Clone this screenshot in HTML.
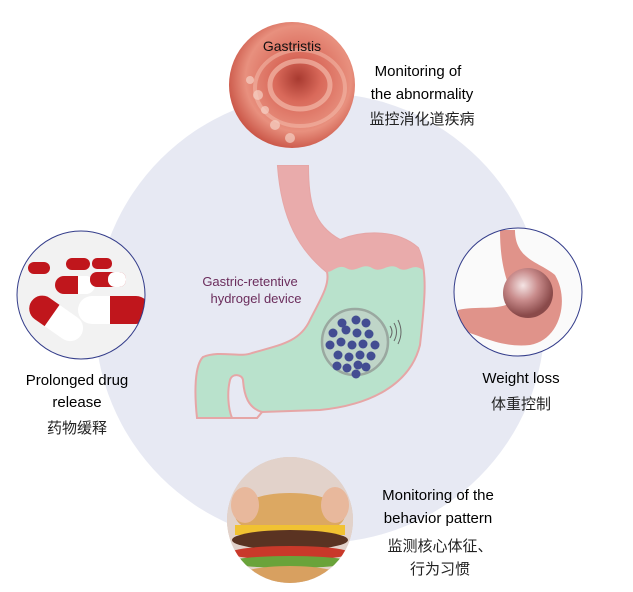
<!DOCTYPE html>
<html><head><meta charset="utf-8"><style>
body{margin:0;background:#fff;}
svg{display:block;}
text{font-family:"Liberation Sans","Noto Sans CJK SC",sans-serif;}
</style></head><body>
<svg width="633" height="592" viewBox="0 0 633 592" xmlns="http://www.w3.org/2000/svg">
<defs>
<radialGradient id="gas" cx="0.55" cy="0.45" r="0.6">
<stop offset="0" stop-color="#a83a30"/><stop offset="0.3" stop-color="#d9695a"/><stop offset="0.7" stop-color="#e8907e"/><stop offset="1" stop-color="#c44a3c"/></radialGradient>
<radialGradient id="bal" cx="0.4" cy="0.35" r="0.6">
<stop offset="0" stop-color="#f4e4e4"/><stop offset="0.5" stop-color="#c98c8c"/><stop offset="1" stop-color="#8a4a4a"/></radialGradient>
<clipPath id="cb"><circle cx="290" cy="520" r="63"/></clipPath>
<clipPath id="cl"><circle cx="81" cy="295" r="64"/></clipPath>
<clipPath id="cr"><circle cx="518" cy="292" r="64"/></clipPath>
</defs>
<circle cx="320" cy="318" r="225" fill="#e7e9f3"/>
<!-- stomach -->
<path d="M278,166 L308,166 C308,200 312,225 340,240 C360,232 395,228 418,248 C428,270 425,300 420,345 C410,385 370,405 320,410 L262,412 L257,418 L197,418 C194,390 195,365 203,357 C220,350 240,358 252,353 C280,345 300,342 310,320 C320,300 330,285 327,272 C300,250 282,220 278,166 Z" fill="#b9e2cc" stroke="#e6a6a6" stroke-width="2"/>
<path d="M262,412 C248,408 244,395 243,380 C242,374 232,373 230,380 C227,392 228,408 232,418 L257,418 Z" fill="#e7e9f3" stroke="#e6a6a6" stroke-width="2"/>
<path d="M278,166 L308,166 C308,200 312,225 340,240 C360,232 395,228 418,248 C422,255 423,262 423,270 C412,262 408,274 398,268 C388,262 382,274 372,268 C362,262 356,274 346,268 C338,264 333,272 327,272 C300,250 282,220 278,166 Z" fill="#e9abab"/>
<circle cx="355" cy="342" r="33" fill="#bfd5c8" stroke="#9aa8a0" stroke-width="2.5"/>
<g fill="#434d92">
<circle cx="342" cy="323" r="4.5"/><circle cx="356" cy="320" r="4.5"/><circle cx="366" cy="323" r="4.5"/><circle cx="333" cy="333" r="4.5"/><circle cx="346" cy="330" r="4.5"/><circle cx="357" cy="333" r="4.5"/><circle cx="369" cy="334" r="4.5"/><circle cx="330" cy="345" r="4.5"/><circle cx="341" cy="342" r="4.5"/><circle cx="352" cy="345" r="4.5"/><circle cx="363" cy="344" r="4.5"/><circle cx="375" cy="345" r="4.5"/><circle cx="338" cy="355" r="4.5"/><circle cx="349" cy="357" r="4.5"/><circle cx="360" cy="355" r="4.5"/><circle cx="371" cy="356" r="4.5"/><circle cx="337" cy="366" r="4.5"/><circle cx="347" cy="368" r="4.5"/><circle cx="358" cy="365" r="4.5"/><circle cx="366" cy="367" r="4.5"/><circle cx="356" cy="374" r="4.5"/>
</g>
<path d="M390,326 q4,6 0,12 M394,323 q5,9 0,18 M398,320 q6,12 0,24" stroke="#666" fill="none" stroke-width="1"/>
<text x="250" y="286" font-size="13" fill="#6b2d5c" text-anchor="middle">Gastric-retentive</text>
<text x="256" y="303" font-size="13" fill="#6b2d5c" text-anchor="middle">hydrogel device</text>
<!-- top photo -->
<circle cx="292" cy="85" r="63" fill="url(#gas)"/>
<ellipse cx="300" cy="85" rx="30" ry="24" fill="none" stroke="#f2b8a8" stroke-width="5" opacity="0.7"/>
<ellipse cx="300" cy="88" rx="45" ry="38" fill="none" stroke="#f5c0b0" stroke-width="4" opacity="0.5"/>
<g fill="#f6d0c4" opacity="0.7"><circle cx="250" cy="80" r="4"/><circle cx="258" cy="95" r="5"/><circle cx="265" cy="110" r="4"/><circle cx="275" cy="125" r="5"/><circle cx="290" cy="138" r="5"/></g>
<text x="292" y="51" font-size="14" fill="#111" text-anchor="middle">Gastristis</text>
<text x="418" y="76" font-size="15" fill="#000" text-anchor="middle">Monitoring of</text>
<text x="422" y="99" font-size="15" fill="#000" text-anchor="middle">the abnormality</text>
<text x="422" y="124" font-size="15" fill="#222" text-anchor="middle">监控消化道疾病</text>
<!-- left photo -->
<g clip-path="url(#cl)">
<rect x="17" y="231" width="128" height="128" fill="#f2f2f2"/>
<g transform="rotate(35 55 320)"><rect x="25" y="305" width="60" height="26" rx="13" fill="#fff"/><path d="M38,305 h12 v26 h-12 a13,13 0 0 1 0,-26z" fill="#c0161c"/></g>
<rect x="78" y="296" width="72" height="28" rx="14" fill="#fff"/><path d="M110,296 h26 a14,14 0 0 1 0,28 h-26z" fill="#c0161c"/>
<rect x="55" y="276" width="40" height="18" rx="9" fill="#fff"/><path d="M55,285 a9,9 0 0 1 9,-9 h14 v18 h-14 a9,9 0 0 1 -9,-9z" fill="#c0161c"/>
<rect x="90" y="272" width="36" height="15" rx="7" fill="#c0161c"/><rect x="108" y="272" width="18" height="15" rx="7" fill="#fff"/>
<rect x="28" y="262" width="22" height="12" rx="6" fill="#c0161c"/><rect x="66" y="258" width="24" height="12" rx="6" fill="#c0161c"/>
<rect x="92" y="258" width="20" height="11" rx="5" fill="#c0161c"/>
</g>
<circle cx="81" cy="295" r="64" fill="none" stroke="#333c8a" stroke-width="1"/>
<text x="77" y="385" font-size="15" fill="#000" text-anchor="middle">Prolonged drug</text>
<text x="77" y="407" font-size="15" fill="#000" text-anchor="middle">release</text>
<text x="77" y="433" font-size="15" fill="#222" text-anchor="middle">药物缓释</text>
<!-- right photo -->
<circle cx="518" cy="292" r="64" fill="#fafafa"/>
<g clip-path="url(#cr)">
<path d="M500,230 L515,230 C515,260 540,262 555,275 C570,300 560,340 530,345 C500,348 480,335 460,330 L458,310 C480,305 500,312 515,300 C505,280 500,260 500,230Z" fill="#e0938a"/>
<circle cx="528" cy="293" r="25" fill="url(#bal)"/>
</g>
<circle cx="518" cy="292" r="64" fill="none" stroke="#333c8a" stroke-width="1"/>
<text x="521" y="383" font-size="15" fill="#000" text-anchor="middle">Weight loss</text>
<text x="521" y="409" font-size="15" fill="#222" text-anchor="middle">体重控制</text>
<!-- bottom photo -->
<circle cx="290" cy="520" r="63" fill="#d9c3b8"/>
<g clip-path="url(#cb)">
<rect x="225" y="455" width="130" height="130" fill="#e2d2ca"/>
<ellipse cx="290" cy="515" rx="55" ry="22" fill="#dca862"/>
<rect x="235" y="525" width="110" height="10" fill="#f1c232"/>
<ellipse cx="290" cy="540" rx="58" ry="10" fill="#5a3322"/>
<ellipse cx="290" cy="553" rx="60" ry="7" fill="#c9392a"/>
<ellipse cx="290" cy="562" rx="60" ry="6" fill="#6aa33a"/>
<ellipse cx="290" cy="578" rx="55" ry="12" fill="#d8a060"/>
<ellipse cx="245" cy="505" rx="14" ry="18" fill="#e8b89c"/><ellipse cx="335" cy="505" rx="14" ry="18" fill="#e8b89c"/>
</g>
<text x="438" y="500" font-size="15" fill="#000" text-anchor="middle">Monitoring of the</text>
<text x="438" y="523" font-size="15" fill="#000" text-anchor="middle">behavior pattern</text>
<text x="440" y="551" font-size="15" fill="#222" text-anchor="middle">监测核心体征、</text>
<text x="440" y="574" font-size="15" fill="#222" text-anchor="middle">行为习惯</text>
</svg>
</body></html>
